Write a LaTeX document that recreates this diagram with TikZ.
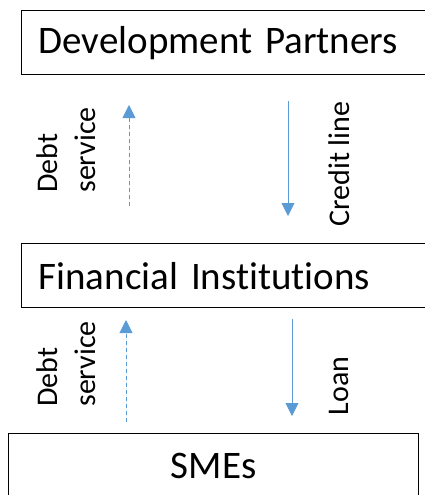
\documentclass[tikz,border=0pt]{standalone}
\usepackage{fontspec}
\setmainfont[Ligatures=NoCommon]{Carlito}
\usetikzlibrary{arrows.meta}
\definecolor{flowblue}{HTML}{5B9BD5}
% large type for the three boxes, with a narrower word space
\protected\def\boxfont{\fontsize{39}{46}\selectfont\spaceskip=0.18em\relax}
\begin{document}
\begin{tikzpicture}[x=1pt, y=1pt,
        box/.style={draw, line width=1.3pt, minimum height=64pt, inner sep=0pt,
            font=\boxfont},
        lbl/.style={rotate=90, align=left, inner sep=0pt,
            font=\fontsize{30}{38}\selectfont},
        flow/.style={draw=flowblue, line width=0.9pt,
            -{Triangle[width=13pt, length=13pt]}, fill=flowblue},
        payback/.style={flow, dash pattern=on 4pt off 3pt}]
    \useasboundingbox (0, 0) rectangle (425, -495);
    % the three parties, one under the other
    \node[box, anchor=north west, text width=390pt, align=left, inner xsep=17pt]
        (partners) at (21, -10) {Development Partners};
    \node[box, anchor=north west, text width=390pt, align=left, inner xsep=17pt]
        (fis) at (21, -243) {Financial Institutions};
    \node[box, anchor=north west, minimum width=410pt]
        (smes) at (8, -433) {SMEs};
    % ends of the flows between them
    \coordinate (ds1 start) at (129, -206);
    \coordinate (ds1 end) at (129, -105);
    \coordinate (cl start) at (288, -101);
    \coordinate (cl end) at (288, -216);
    \coordinate (ds2 start) at (126, -422);
    \coordinate (ds2 end) at (126, -320);
    \coordinate (loan start) at (292, -319);
    \coordinate (loan end) at (292, -416);
    \draw[payback] (ds1 start) -- (ds1 end);
    \draw[flow] (cl start) -- (cl end);
    \draw[payback] (ds2 start) -- (ds2 end);
    \draw[flow] (loan start) -- (loan end);
    % labels beside the flows
    \node[lbl] (ds1 label) at (66, -150) {Debt\\service};
    \node[lbl] (cl label) at (339, -164) {Credit line};
    \node[lbl] (ds2 label) at (66, -364) {Debt\\service};
    \node[lbl] (loan label) at (339, -386) {Loan};
\end{tikzpicture}
\end{document}
